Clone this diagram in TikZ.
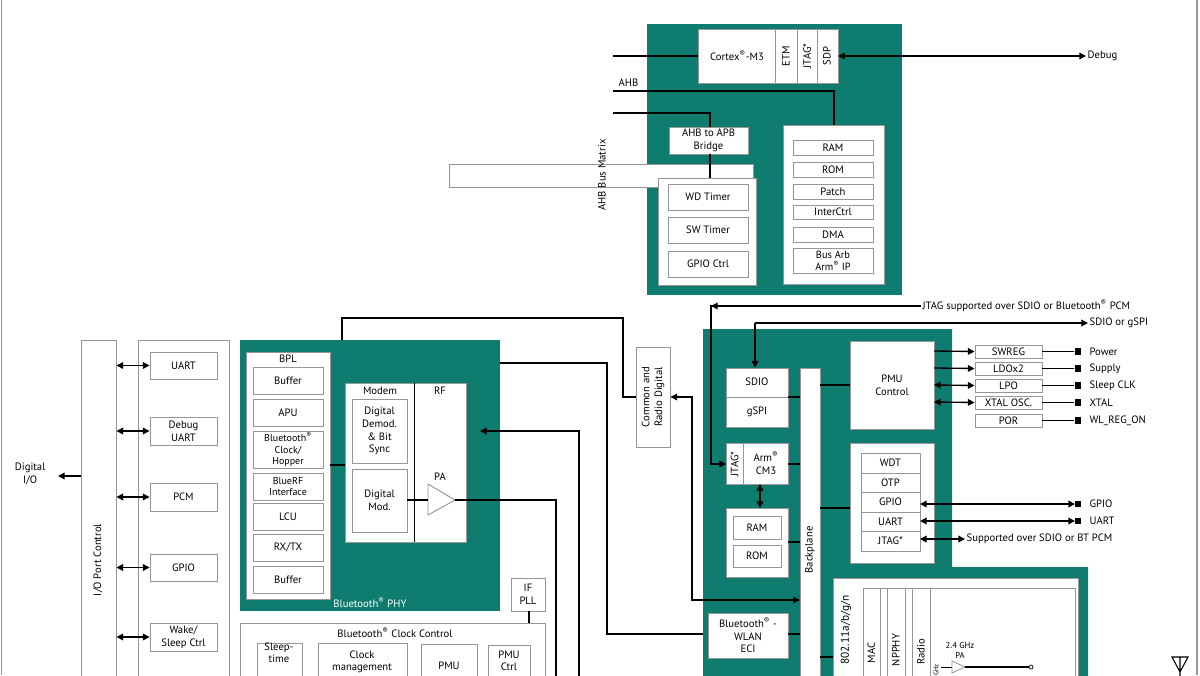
\documentclass[tikz,border=0pt]{standalone}
\usepackage{fontspec}
\setmainfont{PT Sans}
\usetikzlibrary{arrows.meta}
\definecolor{tealc}{RGB}{14,124,110}
\definecolor{grayb}{RGB}{150,150,150}
\tikzset{
 wb/.style={draw=grayb,fill=white,line width=0.7pt,inner sep=0pt,align=center,font=\fontsize{8}{9.5}\selectfont},
 tb/.style={fill=tealc,draw=none},
 ln/.style={line width=1pt},
 ar/.style={ln,-{Triangle[length=5pt,width=5pt]}},
 dar/.style={ln,{Triangle[length=5pt,width=5pt]}-{Triangle[length=5pt,width=5pt]}},
 lbl/.style={inner sep=1pt,font=\fontsize{8}{9.5}\selectfont,align=center},
 sq/.style={fill=black,minimum size=5pt,inner sep=0pt},
}
\newcommand\R{\textsuperscript{®}}
\newcommand\bx[7][]{\pgfmathsetmacro\bw{(#5-#3)*0.75}\pgfmathsetmacro\bh{(#6-#4)*0.75}%
 \node[wb,#1,minimum width=\bw pt,minimum height=\bh pt] (#2) at ({(#3+#5)/2},{(#4+#6)/2}) {#7};}
\begin{document}
\begin{tikzpicture}[x=0.75pt,y=-0.75pt]
\useasboundingbox (0,0) rectangle (1200,675);
\clip (0,0) rectangle (1200,675);
\fill[white] (0,0) rectangle (1200,675);
\draw[grayb,line width=0.8pt] (1.5,0)--(1.5,675) (1197,0)--(1197,675);
% ===== top block
\fill[tealc] (647,24) rectangle (902,295);
\bx[rotate=90]{ahb}{590}{24}{613}{328}{}
\node[lbl,rotate=90] at (602,175) {AHB Bus Matrix};
\bx{cortex}{698}{29}{838}{83}{}
\draw[grayb,line width=0.7pt] (775,29)--(775,83) (797,29)--(797,83) (817,29)--(817,83);
\node[lbl] at (737,56) {Cortex\R-M3};
\node[lbl,rotate=90] at (786,56) {ETM};
\node[lbl,rotate=90] at (807,56) {JTAG*};
\node[lbl,rotate=90] at (827,56) {SDP};
\node[lbl,anchor=west] (dbg) at (1086,56) {Debug};
\draw[dar] (838,56)--(dbg.west);
\draw[ln] (613,56)--(698,56);
\node[lbl,anchor=west] at (617,83) {AHB};
\draw[ln] (613,91)--(834,91)--(834,125);
\draw[ln] (613,113)--(710,113)--(710,127);
\bx{bridge}{669}{127}{748}{154}{AHB to APB\\Bridge}
\draw[ln] (bridge.south)++(0,0) (710,154)--(710,178);
\node[lbl,text=white,font=\fontsize{8}{9.5}\selectfont\bfseries] at (742,170) {APB};
\bx{timers}{658}{178}{756}{285}{}
\bx{wd}{668}{184}{748}{210}{WD Timer}
\bx{sw}{668}{217}{748}{243}{SW Timer}
\bx{gc}{668}{251}{748}{277}{GPIO Ctrl}
\bx{mem}{783}{125}{884}{284}{}
\bx{ram1}{793}{140}{873}{155}{RAM}
\bx{rom1}{793}{162}{873}{177}{ROM}
\bx{patch}{793}{184}{873}{199}{Patch}
\bx{ictl}{793}{205}{873}{219}{InterCtrl}
\bx{dma}{793}{227}{873}{242}{DMA}
\bx[font=\fontsize{7.8}{9}\selectfont]{barb}{793}{248}{873}{273}{Bus Arb\\Arm\R{} IP}
% ===== left
\bx{ioc}{81}{340}{116}{700}{}
\node[lbl,rotate=90] at (98,560) {I/O Port Control};
\node[lbl,anchor=east] (dio) at (47,474) {Digital\\I/O};
\draw[ar] (81,476)--(58,476);
\bx{per}{138}{340}{229}{700}{}
\bx{uart}{150}{352}{217}{379}{UART}
\bx{duart}{150}{417}{217}{445}{Debug\\UART}
\bx{pcm}{150}{483}{217}{511}{PCM}
\bx{gpiol}{150}{554}{217}{581}{GPIO}
\bx{wake}{150}{623}{217}{651}{Wake/\\Sleep Ctrl}
\foreach \n in {uart,duart,pcm,gpiol,wake}{\draw[dar] (\n.west-|ioc.east)--(\n.west);}
% ===== BT PHY
\fill[tealc] (240,340) rectangle (500,611);
\bx{bpl}{246}{352}{330}{599}{}
\node[lbl] at (288,359) {BPL};
\bx{b1}{253}{367}{323}{394}{Buffer}
\bx{apu}{253}{399}{323}{426}{APU}
\bx[font=\fontsize{7.5}{8.8}\selectfont]{btc}{253}{431}{323}{468}{Bluetooth\R\\Clock/\\Hopper}
\bx[font=\fontsize{7.5}{8.8}\selectfont]{brf}{253}{473}{323}{500}{BlueRF\\Interface}
\bx{lcu}{253}{503}{323}{530}{LCU}
\bx{rxtx}{253}{534}{323}{561}{RX/TX}
\bx{b2}{253}{566}{323}{593}{Buffer}
\bx{modem}{345}{383}{466}{542}{}
\draw[black,line width=0.7pt] (414,383)--(414,542);
\node[lbl] at (380,391) {Modem};
\node[lbl] at (440,391) {RF};
\bx{ddem}{352}{399}{407}{463}{Digital\\Demod.\\\& Bit\\Sync}
\bx{dmod}{352}{469}{407}{532}{Digital\\Mod.}
\node[lbl] at (440,477) {PA};
\draw[grayb,fill=white,line width=0.7pt] (428,484)--(455,500)--(428,515)--cycle;
\coordinate (pa) at (455,500);
\draw[ln] (330,465)--(345,465);
\draw[ln] (407,500)--(428,500);
\node[lbl,text=white] at (370,603) {Bluetooth\R{} PHY};
\bx{ifpll}{511}{578}{545}{611}{IF\\PLL}
\draw[ln] (529,611)--(529,623);
\bx{bcc}{240}{623}{545}{700}{}
\node[lbl] at (395,633) {Bluetooth\R{} Clock Control};
\bx{slp}{257}{643}{302}{700}{}
\node[lbl,anchor=north] at (279,641) {Sleep-\\time};
\bx{clkm}{318}{643}{407}{700}{}
\node[lbl,anchor=north] at (362,649) {Clock\\management};
\bx{pmub}{421}{644}{477}{700}{}
\node[lbl] at (449,666) {PMU};
\bx{pmuc}{488}{645}{530}{700}{}
\node[lbl,anchor=north] at (509,649) {PMU\\Ctrl};
% ===== middle connections
\bx{crd}{636}{347}{670}{447}{}
\node[lbl,rotate=90] at (653,397) {Common and\\Radio Digital};
\draw[ln] (342,340)--(342,318)--(623,318)--(623,397)--(crd.west|-623,397);
\draw[ln] (pa)--(556,500)--(556,680);
\draw[ar] (579,680)--(579,431)--(480,431);
\draw[ln] (500,363)--(607,363)--(607,634)--(708,634);
% ===== right block
\fill[tealc] (703,329)--(952,329)--(952,567)--(1088,567)--(1088,680)--(703,680)--cycle;
\bx{sdio}{726}{368}{788}{427}{}
\draw[grayb,line width=0.7pt] (726,397)--(788,397);
\node[lbl] at (757,382) {SDIO};
\node[lbl] at (757,412) {gSPI};
\bx{bp}{800}{368}{820}{700}{}
\node[lbl,rotate=90] at (810,550) {Backplane};
\draw[dar] (crd.east|-0,397)--(692,397)--(692,600)--(800,600);
\bx{pmu}{850}{341}{934}{429}{PMU\\Control}
\bx{cm3}{726}{443}{788}{484}{}
\draw[grayb,line width=0.7pt] (743,443)--(743,484);
\node[lbl,rotate=90] at (734.5,464) {JTAG*};
\node[lbl] at (766,463) {Arm\R\\CM3};
\bx{rr}{726}{508}{788}{577}{}
\bx{ram2}{733}{516}{781}{539}{RAM}
\bx{rom2}{733}{545}{781}{567}{ROM}
\draw[dar] (760,484)--(760,508);
\bx{eci}{708}{613}{788}{658}{Bluetooth\R{} -\\WLAN\\ECI}
\foreach \yy in {397,464,542,634}{\draw[ln] (788,\yy)--(800,\yy);}
\draw[ln] (820,385)--(850,385);
\draw[ln] (820,508)--(850,508);
\draw[ln] (820,657)--(833,657);
\bx{wdtb}{850}{443}{934}{563}{}
\bx{wdt}{861}{453}{920}{473}{WDT}
\bx{otp}{861}{473}{920}{492}{OTP}
\bx{gp}{861}{492}{920}{512}{GPIO}
\bx{ua}{861}{512}{920}{531}{UART}
\bx{jt}{861}{531}{920}{551}{JTAG*}
% PMU side
\bx{swreg}{975}{345}{1042}{358}{SWREG}
\bx{ldo}{975}{362}{1042}{375}{LDOx2}
\bx{lpo}{975}{379}{1042}{392}{LPO}
\bx{xtal}{975}{396}{1042}{409}{XTAL OSC.}
\bx{por}{975}{414}{1042}{427}{POR}
\draw[ar] (934,351)--(swreg.west);
\draw[ar] (934,368)--(ldo.west);
\draw[dar] (934,385)--(lpo.west);
\draw[dar] (934,402)--(xtal.west);
\foreach \n/\t in {swreg/Power,ldo/Supply,lpo/Sleep CLK,xtal/XTAL,por/WL\_REG\_ON}{
 \node[sq] (s\n) at (1078,0|-\n.east) {};
 \draw[ln] (\n.east)--(s\n);
 \node[lbl,anchor=west] at (1088,0|-\n.east) {\t};}
\node[sq] (sgp) at (1078,504) {};
\node[lbl,anchor=west] at (1088,504) {GPIO};
\draw[dar] (920,504)--(1075,504);
\node[sq] (sua) at (1078,521) {};
\node[lbl,anchor=west] at (1088,521) {UART};
\draw[dar] (920,521)--(1075,521);
\node[lbl,anchor=west] (sup) at (965,539) {Supported over SDIO or BT PCM};
\draw[dar] (920,539)--(sup.west);
\node[lbl,anchor=west] (jl) at (921,306) {JTAG supported over SDIO or Bluetooth\R{} PCM};
\draw[ar] (jl.west)++(-2,0) coordinate (j1) (j1)--(711,306)--(711,464)--(726,464);
\draw[ar] (jl.west)--(711,306);
\node[lbl,anchor=west] (sl) at (1088,323) {SDIO or gSPI};
\draw[ar] (755,323)--(sl.west);
\draw[ar] (755,323)--(sdio.north-|755,0);
% 802.11
\bx{wlan}{833}{578}{1078}{700}{}
\node[lbl,rotate=90,anchor=east] at (846,588) {};
\node[lbl,rotate=90,font=\fontsize{8.5}{10}\selectfont] at (846,630) {802.11a/b/g/n};
\bx{wl2}{863}{588}{1075}{700}{}
\bx{mac}{863}{588}{880}{700}{}
\bx{npp}{887}{588}{905}{700}{}
\bx{rad}{912}{588}{930}{700}{}
\node[lbl,rotate=90,anchor=west] at (872,612) {};
\node[lbl,rotate=90] at (871.5,653) {MAC};
\node[lbl,rotate=90] at (896,650) {NPPHY};
\node[lbl,rotate=90] at (921,652) {Radio};
\node[lbl,rotate=90,font=\fontsize{5}{6}\selectfont] at (936,670) {GHz};
\node[lbl,font=\fontsize{6.5}{7.5}\selectfont] at (960,650) {2.4 GHz\\PA};
\draw[grayb,fill=white,line width=0.6pt] (952,661)--(965,667)--(952,673)--cycle;
\draw[line width=0.5pt] (941,667)--(952,667);
\draw[line width=0.8pt] (965,667)--(1030,667);
\draw[fill=white,line width=0.5pt] (1031,667) circle (2);
\draw[line width=0.8pt] (1172,657)--(1188,657)--(1180,672)--cycle (1180,657)--(1180,680);
\end{tikzpicture}
\end{document}
